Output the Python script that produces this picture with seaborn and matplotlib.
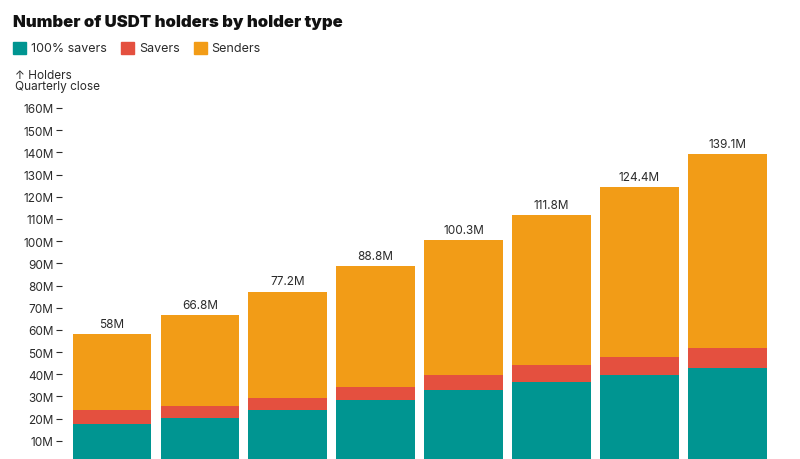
import numpy as np
import pandas as pd
import matplotlib
matplotlib.use("Agg")
import matplotlib.pyplot as plt
import seaborn as sns
from matplotlib.patches import Rectangle

# === data (millions of holders) ===
quarters = ["Q1 2023", "Q2 2023", "Q3 2023", "Q4 2023", "Q1 2024", "Q2 2024", "Q3 2024", "Q4 2024"]
full_savers = [17.6, 20.3, 23.9, 28.4, 33.0, 36.3, 39.8, 42.8]
savers = [6.3, 5.5, 5.2, 6.0, 6.6, 8.0, 8.2, 9.1]
senders = [34.1, 41.0, 48.1, 54.4, 60.7, 67.5, 76.4, 87.2]
totals = [58, 66.8, 77.2, 88.8, 100.3, 111.8, 124.4, 139.1]
total_labels = ["58M", "66.8M", "77.2M", "88.8M", "100.3M", "111.8M", "124.4M", "139.1M"]

series_names = ["100% savers", "Savers", "Senders"]
colors = ["#009591", "#E4503F", "#F29C17"]

df = pd.DataFrame({
    "quarter": quarters,
    "full": full_savers,
    "savers": savers,
    "senders": senders,
})
# cumulative heights so the stacks can be drawn on top of each other
df["top_savers"] = df["full"] + df["savers"]
df["top_senders"] = df["top_savers"] + df["senders"]

sns.set_theme(style="white")
plt.rcParams["font.family"] = ["Inter", "DejaVu Sans"]
text_color = "#2b2b2b"

fig = plt.figure(figsize=(8, 4.6), dpi=100)
W, H = 800, 460
# axes: zero line just below the bottom edge (chart is cropped)
ax = fig.add_axes([62 / W, (H - 464) / H, (780 - 62) / W, (464 - 109) / H])

# === stacked bars: draw tallest first ===
for col, c in [("top_senders", colors[2]), ("top_savers", colors[1]), ("full", colors[0])]:
    sns.barplot(data=df, x="quarter", y=col, color=c, width=0.895,
                saturation=1, order=quarters, ax=ax, linewidth=0)

# total labels above each bar
for i, (t, lab) in enumerate(zip(totals, total_labels)):
    ax.text(i, t + 1.9, lab, ha="center", va="bottom", fontsize=8.5, color=text_color)

ax.set_xlim(-0.569, 7.60)
ax.set_ylim(0, 160)
yt = np.arange(0, 161, 10)
ax.set_yticks(yt)
# the zero label sits below the cropped edge, leave it blank
ax.set_yticklabels([""] + [f"{v}M" for v in yt[1:]], fontsize=8.5, color=text_color)
ax.tick_params(axis="y", left=True, length=4, width=0.8, color=text_color, pad=2)
ax.set_xticks([])
ax.set_xlabel("")
ax.set_ylabel("")
for s in ax.spines.values():
    s.set_visible(False)

# === title, legend, axis caption ===
fig.text(13 / W, 1 - 22 / H, "Number of USDT holders by holder type",
         fontsize=12, fontweight="black", color="#111111", va="center", ha="left")

lx = 13
for name, c in zip(series_names, colors):
    fig.patches.append(Rectangle((lx / W, 1 - 55 / H), 13 / W, 12 / H,
                                 transform=fig.transFigure, color=c, figure=fig))
    t = fig.text((lx + 18) / W, 1 - 49 / H, name, fontsize=9, color=text_color,
                 va="center", ha="left")
    fig.canvas.draw()
    bb = t.get_window_extent()
    lx = bb.x1 + 14

fig.text(15 / W, 1 - 76 / H, "\u2191 Holders", fontsize=8.5, color=text_color, va="center")
fig.text(15 / W, 1 - 87 / H, "Quarterly close", fontsize=8.5, color=text_color, va="center")

fig.savefig("out.png", dpi=100)
